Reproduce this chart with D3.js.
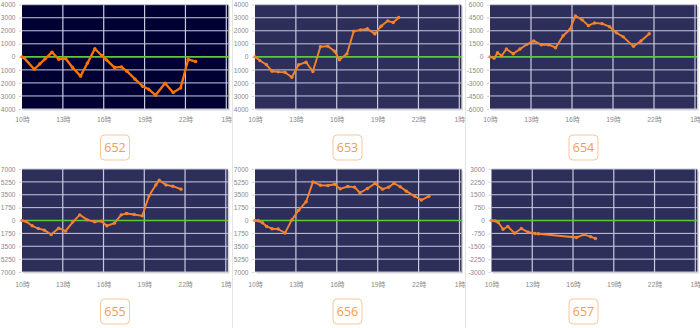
<!DOCTYPE html>
<html><head><meta charset="utf-8">
<script src="https://cdn.jsdelivr.net/npm/d3@7"></script>
<style>html,body{margin:0;padding:0;background:#fff;}svg{display:block;}</style>
</head><body>
<script>
// ---- data ----
const panelNames = ["652","653","654","655","656","657"];
const xTickHours = [10,13,16,19,22,25];
const xTickLabels = ["10時","13時","16時","19時","22時","1時"];
const yTicks652 = [-4000,-3000,-2000,-1000,0,1000,2000,3000,4000];
const yTicks653 = [-4000,-3000,-2000,-1000,0,1000,2000,3000,4000];
const yTicks654 = [-6000,-4500,-3000,-1500,0,1500,3000,4500,6000];
const yTicks655 = [-7000,-5250,-3500,-1750,0,1750,3500,5250,7000];
const yTicks656 = [-7000,-5250,-3500,-1750,0,1750,3500,5250,7000];
const yTicks657 = [-3000,-2250,-1500,-750,0,750,1500,2250,3000];

const t652 = [10.0,10.15,10.9,11.3,11.7,12.2,12.7,13.2,13.7,14.3,14.8,15.35,15.85,16.2,16.8,17.3,17.7,18.3,18.85,19.3,19.8,20.5,21.1,21.65,22.2,22.75];
const v652 = [0,-80,-950,-550,-150,360,-180,-130,-800,-1480,-490,620,100,-230,-820,-770,-1100,-1710,-2250,-2480,-2940,-2020,-2740,-2380,-200,-360];
const t653 = [10.0,10.35,10.83,11.25,11.7,12.2,12.7,13.2,13.75,14.25,14.8,15.35,15.85,16.2,16.75,17.25,17.75,18.25,18.8,19.25,19.75,20.15,20.55];
const v653 = [0,-280,-590,-1100,-1150,-1180,-1560,-610,-410,-1120,770,820,430,-230,230,1970,2070,2150,1760,2350,2760,2630,3020];
const t654 = [10.0,10.3,10.55,10.85,11.2,11.7,12.2,12.7,13.2,13.75,14.3,14.8,15.35,15.85,16.25,16.75,17.2,17.65,18.2,18.75,19.25,19.75,20.5,21.05,21.65];
const v654 = [0,-150,470,120,900,350,900,1440,1830,1400,1400,1050,2420,3150,4710,4250,3590,3900,3820,3470,2770,2300,1210,1830,2650];
const t655 = [10.0,10.3,10.75,11.2,11.65,12.15,12.7,13.2,13.75,14.25,14.8,15.35,15.85,16.25,16.8,17.3,17.7,18.25,18.85,19.35,19.85,20.1,20.6,21.1,21.7];
const v655 = [0,-130,-720,-1090,-1310,-1900,-1040,-1450,-180,770,90,-180,-90,-720,-360,770,950,810,630,3350,4840,5470,4840,4660,4250];
const t656 = [10.0,10.25,10.55,10.85,11.25,11.7,12.2,12.7,13.2,13.75,14.25,14.8,15.35,15.85,16.25,16.8,17.3,17.7,18.25,18.8,19.35,19.8,20.2,20.65,21.1,21.7,22.2,22.75];
const v656 = [0,-40,-310,-800,-1120,-1160,-1700,90,1390,2550,5250,4800,4750,4930,4300,4620,4530,3770,4350,5020,4260,4530,5070,4580,3990,3320,2780,3280];
const t657 = [10.0,10.25,10.5,10.85,11.2,11.7,12.2,12.7,13.2,13.45,16.25,16.8,17.3,17.65];
const v657 = [0,-20,-120,-510,-350,-740,-470,-680,-760,-770,-990,-820,-940,-1050];

const seriesT = [t652,t653,t654,t655,t656,t657];
const seriesV = [v652,v653,v654,v655,v656,v657];
const yTickSets = [yTicks652,yTicks653,yTicks654,yTicks655,yTicks656,yTicks657];

// ---- layout / style ----
const W = 700, H = 328;
const colX = [0,233,466], colW = [232,232,234];
const leftOff = [22,22,24,22,22,25.5];
const rightOff = [226.3,226.3,229,225.8,226.5,229.3];
const rowTop = [4.7,169], rowBottom = [109,272];
const xLabelY = [123.5,287.8];
const boxCx = [115,114.5,117.5];
const boxTop = [135,299];
const bgColors = ["#000033","#2e2e5b","#2e2e5b","#2e2e5b","#2e2e5b","#2e2e5b"];
const lineColors = ["#ff7300","#f5832c","#f5832c","#f5832c","#f5832c","#f5832c"];
// in the narrow left/middle columns the minus signs of the tick labels fall outside the card
const showSign = [false,false,true,false,false,true];
const font = "'Liberation Sans','Noto Sans CJK JP',sans-serif";

const svg = d3.select("body").append("svg").attr("width",W).attr("height",H);
const defs = svg.append("defs");

[232.5,465.5].forEach(x=>{
  svg.append("line").attr("x1",x).attr("x2",x).attr("y1",0).attr("y2",H)
    .attr("stroke","#e4e4e4").attr("stroke-width",1);
});

panelNames.forEach((name,i)=>{
  const col = i%3, row = Math.floor(i/3);
  const cx = colX[col];
  const left = cx+leftOff[i], right = cx+rightOff[i];
  const top = rowTop[row], bottom = rowBottom[row];
  const ticks = yTickSets[i];
  const x = d3.scaleLinear().domain([10,25]).range([left,right]);
  const y = d3.scaleLinear().domain([d3.min(ticks),d3.max(ticks)]).range([bottom,top]);

  defs.append("clipPath").attr("id","clip"+i).append("rect")
    .attr("x",cx).attr("y",0).attr("width",colW[col]).attr("height",H);
  const g = svg.append("g").attr("clip-path",`url(#clip${i})`);

  g.append("rect").attr("x",left+1.5).attr("y",top+1.5).attr("width",right-left+2).attr("height",bottom-top)
    .attr("fill","#d6d6d6");
  g.append("rect").attr("x",left).attr("y",top).attr("width",right-left+2).attr("height",bottom-top)
    .attr("fill",bgColors[i]);

  g.selectAll(".hg").data(ticks.filter(d=>d!==0)).enter().append("line")
    .attr("x1",left).attr("x2",right+2).attr("y1",d=>y(d)).attr("y2",d=>y(d))
    .attr("stroke","#c9c9dc").attr("stroke-width",1);
  g.selectAll(".vg").data(xTickHours.slice(1)).enter().append("line")
    .attr("x1",d=>x(d)).attr("x2",d=>x(d)).attr("y1",top).attr("y2",bottom)
    .attr("stroke","#c9c9dc").attr("stroke-width",1.2);

  const yAxis = d3.axisLeft(y).tickValues(ticks).tickSize(2).tickPadding(3.5)
    .tickFormat(d=>showSign[i] ? String(d) : String(Math.abs(d)));
  const ya = g.append("g").attr("transform",`translate(${left-1},0)`).call(yAxis);
  ya.select(".domain").remove();
  ya.selectAll(".tick line").attr("stroke","#cfcfcf");
  ya.selectAll(".tick text").attr("fill","#8a8a8a").style("font-family",font).style("font-size","6.6px");

  const xAxis = d3.axisBottom(x).tickValues(xTickHours).tickSize(0).tickPadding(0)
    .tickFormat((d,k)=>xTickLabels[k]);
  const xa = g.append("g").attr("transform",`translate(0,${xLabelY[row]-6})`).call(xAxis);
  xa.select(".domain").remove();
  xa.selectAll(".tick text").attr("fill","#8a8a8a").attr("dy","0.71em").attr("y",0)
    .style("font-family",font).style("font-size","6.8px");

  g.append("line").attr("x1",left).attr("x2",right+2).attr("y1",y(0)).attr("y2",y(0))
    .attr("stroke","#5fc83a").attr("stroke-width",1.6);

  const pts = seriesT[i].map((t,k)=>[t,seriesV[i][k]]);
  const line = d3.line().x(d=>x(d[0])).y(d=>y(d[1]));
  g.append("path").datum(pts).attr("d",line).attr("fill","none")
    .attr("stroke",lineColors[i]).attr("stroke-width",i===0?2.3:1.9).attr("stroke-linejoin","round");
  g.selectAll(".pt").data(pts).enter().append("circle")
    .attr("cx",d=>x(d[0])).attr("cy",d=>y(d[1])).attr("r",1.7).attr("fill",lineColors[i]);

  const bw = 29, bh = 25;
  const bx = cx+boxCx[col]-bw/2;
  g.append("rect").attr("x",bx).attr("y",boxTop[row]).attr("width",bw).attr("height",bh)
    .attr("rx",4).attr("fill","#fff").attr("stroke","#f7c79c").attr("stroke-width",1);
  g.append("text").attr("x",cx+boxCx[col]).attr("y",boxTop[row]+bh/2+4.3)
    .attr("text-anchor","middle").attr("fill","#f39b4f")
    .style("font-family","'Open Sans','Liberation Sans',sans-serif").style("font-size","12.5px")
    .text(name);
});
</script>
</body></html>
